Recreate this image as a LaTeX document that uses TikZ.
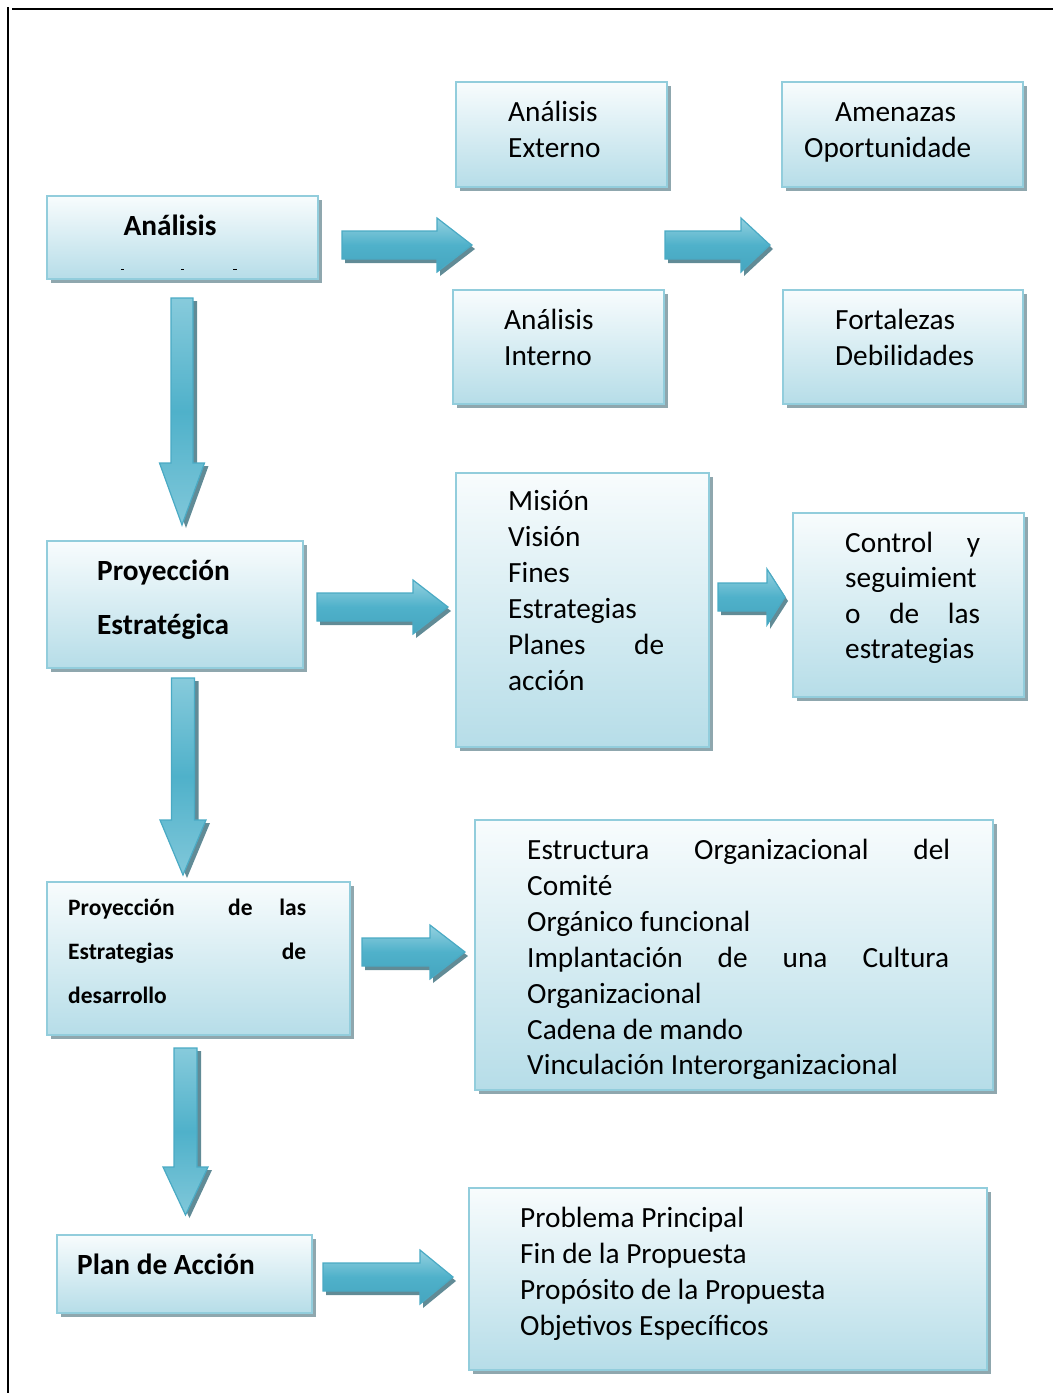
\documentclass[tikz,border=0pt]{standalone}
\usepackage{fontspec}
\setmainfont{Carlito}
\usetikzlibrary{calc}
\definecolor{boxline}{HTML}{92CDDC}
\definecolor{boxtop}{HTML}{F8FCFD}
\definecolor{boxbot}{HTML}{B6DDE8}
\definecolor{boxshadow}{HTML}{8FA7AE}
\definecolor{arrline}{HTML}{4AAAC4}
\definecolor{arrlight}{HTML}{95D1E0}
\definecolor{arrmid}{HTML}{4FB1CA}
\definecolor{arrdark}{HTML}{45A5BF}
\definecolor{arrshadow}{HTML}{1E5A6A}
\tikzset{
  box/.style={draw=boxline, line width=2pt, top color=boxtop, bottom color=boxbot, inner sep=0pt},
  txt/.style={inner sep=0pt, anchor=base west, font=\fontsize{29.3}{36}\selectfont},
  btxt/.style={inner sep=0pt, anchor=base west, font=\fontsize{29.3}{36}\selectfont\bfseries},
  sbtxt/.style={inner sep=0pt, anchor=base west, font=\fontsize{23.5}{28}\selectfont\bfseries},
  arrowbodyh/.style={draw=arrline, line width=1.2pt, top color=arrlight, bottom color=arrdark, middle color=arrmid},
  arrowbodyv/.style={draw=arrline, line width=1.2pt, top color=arrlight!80!arrmid, bottom color=arrlight!70!arrmid, middle color=arrmid},
  arrowshade/.style={fill=arrshadow, opacity=0.7},
  frameline/.style={line width=2.2pt, black},
}
% box: name, x1, y1, x2, y2
\newcommand\mybox[5]{%
  \fill[boxshadow] (#2+4,#3+4) rectangle (#4+4,#5+4);
  \node[box, minimum width={#4-#2}, minimum height={#5-#3}] (#1) at ({(#2+#4)/2},{(#3+#5)/2}) {};
}
% right arrow: x1, x2, yc, headlen, shafthalf, headhalf
\newcommand\rarrow[6]{%
  \path[arrowshade, shift={(3,4)}] (#1,#3-#5) -- (#2-#4,#3-#5) -- (#2-#4,#3-#6) -- (#2,#3) -- (#2-#4,#3+#6) -- (#2-#4,#3+#5) -- (#1,#3+#5) -- cycle;
  \path[arrowbodyh] (#1,#3-#5) -- (#2-#4,#3-#5) -- (#2-#4,#3-#6) -- (#2,#3) -- (#2-#4,#3+#6) -- (#2-#4,#3+#5) -- (#1,#3+#5) -- cycle;
}
% down arrow: xc, y1, y2, headlen, shafthalf, headhalf
\newcommand\darrow[6]{%
  \path[arrowshade, shift={(4,3)}] (#1-#5,#2) -- (#1+#5,#2) -- (#1+#5,#3-#4) -- (#1+#6,#3-#4) -- (#1,#3) -- (#1-#6,#3-#4) -- (#1-#5,#3-#4) -- cycle;
  \path[arrowbodyv] (#1-#5,#2) -- (#1+#5,#2) -- (#1+#5,#3-#4) -- (#1+#6,#3-#4) -- (#1,#3) -- (#1-#6,#3-#4) -- (#1-#5,#3-#4) -- cycle;
}
\begin{document}
\begin{tikzpicture}[x=1pt, y=-1pt]
\useasboundingbox (0,0) rectangle (1053,1393);
% frame
\draw[frameline] (8,7) -- (8,1393);
\draw[frameline] (12,9) -- (1053,9);

% boxes
\mybox{bAna}{47}{196}{318}{279}
\mybox{bExt}{456}{82}{667}{187}
\mybox{bAme}{782}{82}{1023}{187}
\mybox{bInt}{453}{290}{664}{404}
\mybox{bFor}{783}{290}{1023}{404}
\mybox{bPro}{47}{541}{303}{668}
\mybox{bMis}{456}{473}{709}{747}
\mybox{bCon}{793}{513}{1024}{697}
\mybox{bEst}{47}{882}{350}{1035}
\mybox{bOrg}{475}{820}{993}{1090}
\mybox{bPlan}{57}{1235}{312}{1313}
\mybox{bProb}{469}{1188}{987}{1370}

% arrows
\rarrow{342}{472}{245}{35}{14}{27}
\rarrow{665}{770}{245}{29}{14}{27}
\rarrow{317}{448}{607}{35}{14}{27}
\rarrow{718}{785}{597}{18}{14}{28}
\rarrow{362}{465}{952}{35}{14}{27}
\rarrow{323}{453}{1277}{33}{14}{27}
\darrow{182}{298}{525}{62}{11}{22.5}
\darrow{183}{678}{875}{55}{11.5}{23}
\darrow{185.5}{1048}{1215}{48}{11.5}{22.5}

% texts
\node[btxt, anchor=base] (tAna) at (170,235) {Análisis};
\draw[line width=1pt] (121,269.5) -- (124,269.5);
\draw[line width=1pt] (181,269.5) -- (184,269.5);
\draw[line width=1pt] (233,269.5) -- (237,269.5);

\node[txt] (tExt1) at (508,121) {Análisis};
\node[txt] (tExt2) at (508,157) {Externo};
\node[txt] (tAme1) at (835,121) {Amenazas};
\node[txt] (tAme2) at (804,157) {Oportunidade};
\node[txt] (tInt1) at (504,329) {Análisis};
\node[txt] (tInt2) at (504,365) {Interno};
\node[txt] (tFor1) at (835,329) {Fortalezas};
\node[txt] (tFor2) at (835,365) {Debilidades};

\node[btxt] (tPro1) at (97,580) {Proyección};
\node[btxt] (tPro2) at (97,634) {Estratégica};

\node[txt] (tMis1) at (508,510) {Misión};
\node[txt] (tMis2) at (508,546) {Visión};
\node[txt] (tMis3) at (508,582) {Fines};
\node[txt] (tMis4) at (508,618) {Estrategias};
\node[txt] (tMis5) at (508,654) {\hbox to 156pt{Planes\hfill de}};
\node[txt] (tMis6) at (508,690) {acción};

\node[txt] (tCon1) at (845,552) {\hbox to 135pt{Control\hfill y}};
\node[txt] (tCon2) at (845,587) {seguimient};
\node[txt] (tCon3) at (845,623) {\hbox to 135pt{o\hfill de\hfill las}};
\node[txt] (tCon4) at (845,658) {estrategias};

\node[sbtxt] (tEst1) at (68,915) {\hbox to 238pt{Proyección\hfill\hfill de\hfill las}};
\node[sbtxt] (tEst2) at (68,959) {\hbox to 238pt{Estrategias\hfill de}};
\node[sbtxt] (tEst3) at (68,1003) {desarrollo};

\node[txt] (tOrg1) at (527,859) {\hbox to 423pt{Estructura\hfill Organizacional\hfill del}};
\node[txt] (tOrg2) at (527,895) {Comité};
\node[txt] (tOrg3) at (527,931) {Orgánico funcional};
\node[txt] (tOrg4) at (527,967) {\hbox to 422pt{Implantación\hfill de\hfill una\hfill Cultura}};
\node[txt] (tOrg5) at (527,1003) {Organizacional};
\node[txt] (tOrg6) at (527,1039) {Cadena de mando};
\node[txt] (tOrg7) at (527,1074) {Vinculación Interorganizacional};

\node[btxt] (tPlan) at (77,1274) {Plan de Acción};

\node[txt] (tProb1) at (520,1227) {Problema Principal};
\node[txt] (tProb2) at (520,1263) {Fin de la Propuesta};
\node[txt] (tProb3) at (520,1299) {Propósito de la Propuesta};
\node[txt] (tProb4) at (520,1335) {Objetivos Específicos};
\end{tikzpicture}
\end{document}
